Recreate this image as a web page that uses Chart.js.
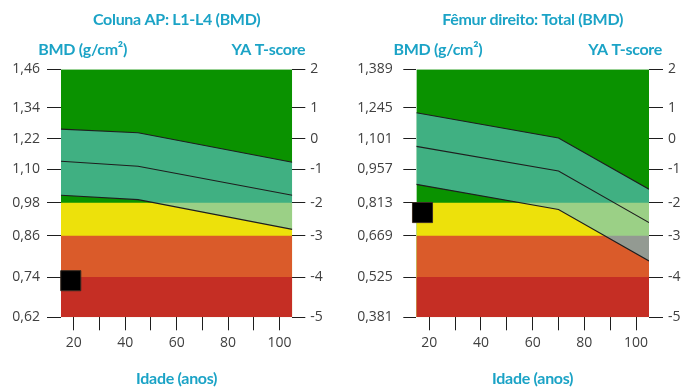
<!DOCTYPE html>
<html>
<head>
<meta charset="utf-8">
<script src="https://cdn.jsdelivr.net/npm/chart.js@4.4.1/dist/chart.umd.min.js"></script>
<style>
  html, body { margin: 0; padding: 0; background: #fff; }
  #wrap { position: relative; width: 683px; height: 387px; overflow: hidden; }
  #wrap canvas { position: absolute; top: 0; }
</style>
</head>
<body>
<div id="wrap">
  <canvas id="spine" width="340" height="387" style="left:0"></canvas>
  <canvas id="femur" width="343" height="387" style="left:340px"></canvas>
</div>
<script>
// ---- Age axis ----
const ageRange = [15, 105];
const ageTicks = [20, 30, 40, 50, 60, 70, 80, 90, 100];
const ageLabels = ['20', '', '40', '', '60', '', '80', '', '100'];

// ---- T-score axis (shared by both panels) ----
const tScoreTicks = [-5, -4, -3, -2, -1, 0, 1, 2];
const tScoreLabels = ['-5', '-4', '-3', '-2', '-1', '0', '1', '2'];

// ---- Coluna AP: L1-L4 ----
const spineBmdTicks = [0.62, 0.74, 0.86, 0.98, 1.10, 1.22, 1.34, 1.46];
const spineBmdLabels = ['0,62', '0,74', '0,86', '0,98', '1,10', '1,22', '1,34', '1,46'];
const spineZoneTops = [1.46, 0.98, 0.86, 0.74];          // zone upper limits, T = 2, -2, -3, -4
const spineRefAges = [15, 45, 105];
const spineUpper = [1.258, 1.244, 1.128];
const spineMean  = [1.132, 1.112, 1.007];
const spineLower = [1.007, 0.991, 0.883];
const spinePatientAge = [18.8];
const spinePatientBmd = [0.729];

// ---- Fêmur direito: Total ----
const femurBmdTicks = [0.381, 0.525, 0.669, 0.813, 0.957, 1.101, 1.245, 1.389];
const femurBmdLabels = ['0,381', '0,525', '0,669', '0,813', '0,957', '1,101', '1,245', '1,389'];
const femurZoneTops = [1.389, 0.813, 0.669, 0.525];
const femurRefAges = [15, 70, 105];
const femurUpper = [1.222, 1.106, 0.871];
const femurMean  = [1.066, 0.950, 0.726];
const femurLower = [0.892, 0.783, 0.581];
const femurPatientAge = [17.4];
const femurPatientBmd = [0.770];

// Relative height (0 = bottom, 1 = top) at which each value-axis tick sits;
// the report uses unevenly spaced steps between ticks.
const tickHeights = [0, 0.1625, 0.329, 0.4621, 0.5968, 0.719, 0.8452, 1];

const zoneColors = ['#0a9200', '#ede10b', '#da5b2a', '#c52e24'];
const refBandColor = 'rgba(100, 196, 217, 0.6)';
const accent = '#1ba3c6';

// Value axis that keeps the tick values evenly stepped but places them at tickHeights
const Base = Chart.LinearScale || Chart.registry.getScale('linear');
class PiecewiseScale extends Base {
  _toDecimal(value) {
    const n = tickHeights.length - 1;
    const t = (value - this.min) / (this.max - this.min) * n;
    const i = Math.max(0, Math.min(n - 1, Math.floor(t)));
    return tickHeights[i] + (t - i) * (tickHeights[i + 1] - tickHeights[i]);
  }
  getPixelForValue(value) {
    if (value === null || value === undefined || isNaN(value)) return NaN;
    return this.getPixelForDecimal(this._toDecimal(value));
  }
  getValueForPixel(pixel) {
    const d = this.getDecimalForPixel(pixel);
    const n = tickHeights.length - 1;
    let i = 0;
    while (i < n - 1 && d > tickHeights[i + 1]) i++;
    const t = i + (d - tickHeights[i]) / (tickHeights[i + 1] - tickHeights[i]);
    return this.min + t / n * (this.max - this.min);
  }
}
PiecewiseScale.id = 'piecewise';
PiecewiseScale.defaults = Base.defaults;
Chart.register(PiecewiseScale);

// Panel headings drawn around the plot area
const panelText = {
  id: 'panelText',
  afterDraw(chart, args, o) {
    const { ctx, chartArea: a } = chart;
    const cx = (a.left + a.right) / 2;
    ctx.save();
    ctx.fillStyle = accent;
    ctx.textBaseline = 'middle';
    ctx.font = 'bold 16px Lato';
    if ('letterSpacing' in ctx) ctx.letterSpacing = '-0.3px';
    ctx.textAlign = 'center';
    ctx.fillText(o.title, cx, 20);
    ctx.fillText('Idade (anos)', cx, 379);
    ctx.textAlign = 'right';
    ctx.fillText('BMD (g/cm\u00B2)', a.left + 66, 50);
    ctx.fillText('YA T-score', a.right + 13, 50);
    ctx.restore();
  }
};

const tickFont = { family: 'Open Sans', size: 14 };
const tickColor = '#404040';
const markColor = '#1e1e1e';

function points(xs, ys) { return xs.map((x, i) => ({ x, y: ys[i] })); }

function makePanel(id, p) {
  const bottom = p.bmdTicks[0];
  const datasets = [];
  // colored diagnostic zones, each filled down to the axis minimum
  p.zoneTops.forEach((top, i) => {
    datasets.push({
      data: points(ageRange, [top, top]),
      borderColor: 'transparent', borderWidth: 0, pointRadius: 0,
      backgroundColor: zoneColors[i], fill: { value: bottom }, order: 20 - i
    });
  });
  const lowerIdx = datasets.length + 2;
  datasets.push({
    data: points(p.refAges, p.upper), borderColor: markColor, borderWidth: 1.1,
    pointRadius: 0, backgroundColor: refBandColor, fill: lowerIdx, order: 10
  });
  datasets.push({
    data: points(p.refAges, p.mean), borderColor: markColor, borderWidth: 1.1,
    pointRadius: 0, fill: false, order: 5
  });
  datasets.push({
    data: points(p.refAges, p.lower), borderColor: markColor, borderWidth: 1.1,
    pointRadius: 0, fill: false, order: 5
  });
  datasets.push({
    data: points(p.patientAge, p.patientBmd), showLine: false, pointStyle: 'rect',
    pointRadius: 14.2, backgroundColor: '#000', borderColor: '#3a2c22', borderWidth: 1,
    clip: false, order: 1
  });

  const valueGrid = { drawOnChartArea: false, drawTicks: true, tickLength: 13, tickColor: markColor, tickWidth: 1 };

  return new Chart(document.getElementById(id), {
    type: 'line',
    data: { datasets },
    options: {
      responsive: false, animation: false, events: [],
      devicePixelRatio: 1,
      elements: { line: { tension: 0 } },
      layout: { padding: { top: 69.3, left: 0, right: 0, bottom: 0 } },
      plugins: {
        legend: { display: false }, tooltip: { enabled: false },
        panelText: { title: p.title }
      },
      scales: {
        x: {
          type: 'linear', min: ageRange[0], max: ageRange[1], bounds: 'data',
          afterBuildTicks: s => { s.ticks = ageTicks.map(v => ({ value: v })); },
          afterFit: s => { s.height = 387 - 317.3; },
          ticks: { callback: (v, i) => ageLabels[i], font: tickFont, color: tickColor, padding: 4, autoSkip: false, maxRotation: 0 },
          grid: { drawOnChartArea: false, drawTicks: true, tickLength: 13, tickColor: markColor, tickWidth: 1 },
          border: { display: false }
        },
        y: {
          type: 'piecewise', position: 'left', bounds: 'data',
          min: p.bmdTicks[0], max: p.bmdTicks[p.bmdTicks.length - 1],
          afterBuildTicks: s => { s.ticks = p.bmdTicks.map(v => ({ value: v })); },
          afterFit: s => { s.width = p.leftW; },
          ticks: { callback: (v, i) => p.bmdLabels[i], font: tickFont, color: tickColor, padding: p.leftPad, autoSkip: false },
          grid: Object.assign({}, valueGrid, { tickLength: p.leftTick }),
          border: { display: false }
        },
        y2: {
          type: 'piecewise', position: 'right', bounds: 'data',
          min: tScoreTicks[0], max: tScoreTicks[tScoreTicks.length - 1],
          afterBuildTicks: s => { s.ticks = tScoreTicks.map(v => ({ value: v })); },
          afterFit: s => { s.width = p.rightW; },
          ticks: { callback: (v, i) => tScoreLabels[i], font: tickFont, color: tickColor, padding: 5, autoSkip: false },
          grid: Object.assign({}, valueGrid, { tickLength: p.rightTick }),
          border: { display: false }
        }
      }
    },
    plugins: [panelText]
  });
}

makePanel('spine', {
  title: 'Coluna AP: L1-L4 (BMD)',
  bmdTicks: spineBmdTicks, bmdLabels: spineBmdLabels, zoneTops: spineZoneTops,
  refAges: spineRefAges, upper: spineUpper, mean: spineMean, lower: spineLower,
  patientAge: spinePatientAge, patientBmd: spinePatientBmd,
  leftW: 61, rightW: 47.7, leftPad: 7, leftTick: 14, rightTick: 13
});

makePanel('femur', {
  title: 'F\u00EAmur direito: Total (BMD)',
  bmdTicks: femurBmdTicks, bmdLabels: femurBmdLabels, zoneTops: femurZoneTops,
  refAges: femurRefAges, upper: femurUpper, mean: femurMean, lower: femurLower,
  patientAge: femurPatientAge, patientBmd: femurPatientBmd,
  leftW: 76.3, rightW: 34, leftPad: 10.5, leftTick: 13, rightTick: 14
});
</script>
</body>
</html>
